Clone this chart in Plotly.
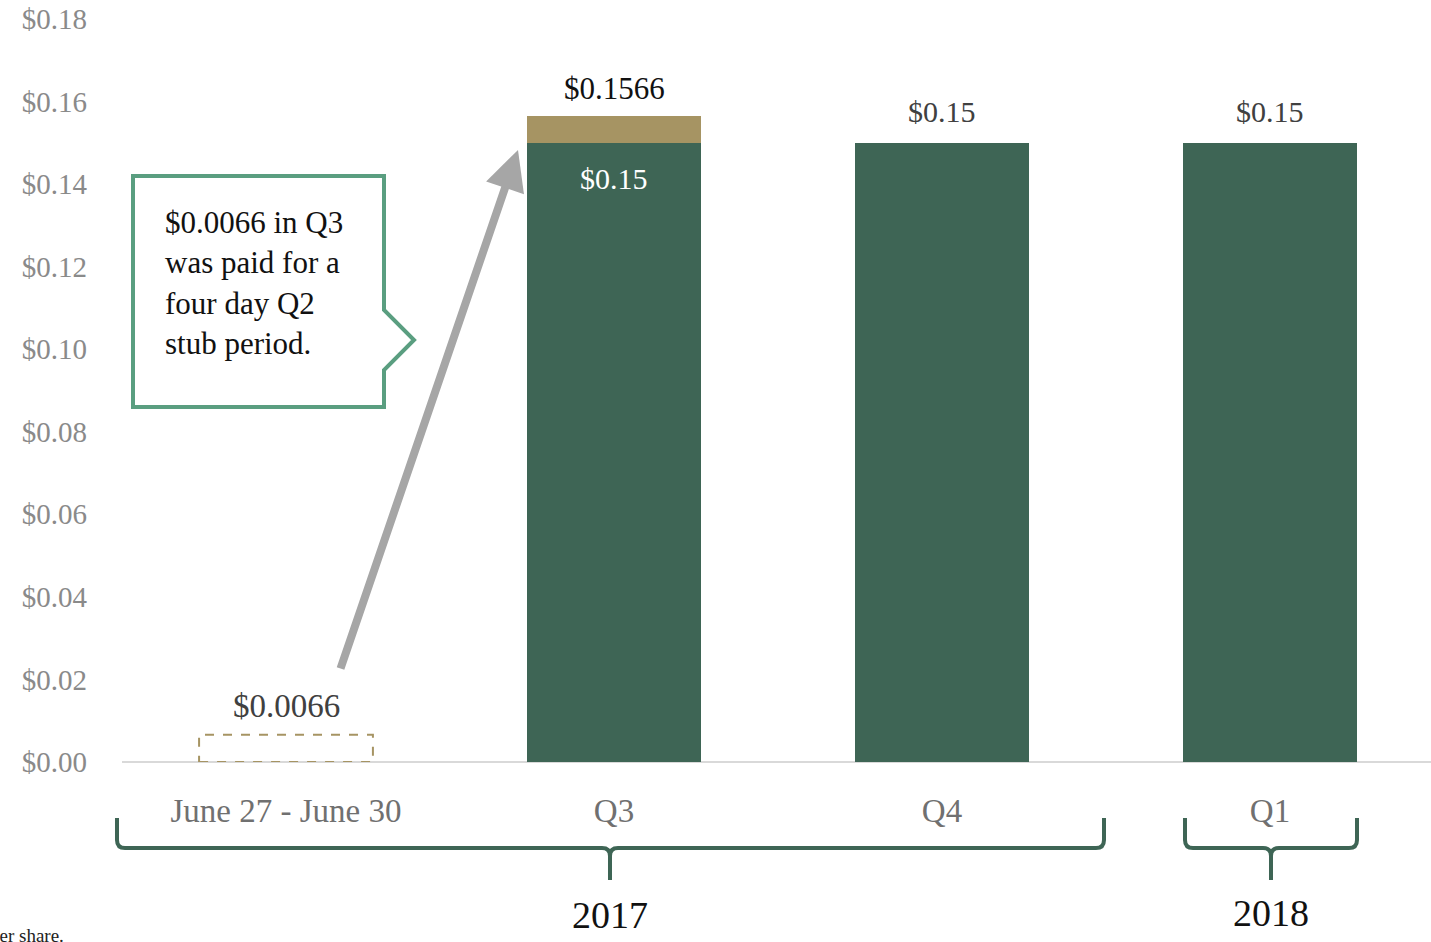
import plotly.graph_objects as go

categories = ["June 27 - June 30", "Q3", "Q4", "Q1"]
regular_dividend = [0, 0.15, 0.15, 0.15]
stub_dividend = [0, 0.0066, 0, 0]
stub_period_value = 0.0066
years = ["2017", "2018"]
y_ticks = [0, 0.02, 0.04, 0.06, 0.08, 0.10, 0.12, 0.14, 0.16, 0.18]

GREEN = "#3e6555"
GOLD = "#a69463"
CALLOUT = "#5a9e80"
FONT = "Liberation Serif"

W, H = 1434, 942
L, R, T, B = 122, 0, 19, 180
PW, PH = W - L - R, H - T - B


def px(x):
    return (x - L) / PW


def py(y):
    return (H - B - y) / PH


BAR_W = 0.53

fig = go.Figure()
fig.add_trace(go.Bar(x=list(range(len(categories))), y=regular_dividend, marker_color=GREEN,
                     width=BAR_W, marker_line_width=0, hoverinfo="skip"))
fig.add_trace(go.Bar(x=list(range(len(categories))), y=stub_dividend, marker_color=GOLD,
                     width=BAR_W, marker_line_width=0, hoverinfo="skip"))

annotations = []
# value labels
annotations.append(dict(x=0, y=stub_period_value, yshift=29, text="$%.4f" % stub_period_value,
                        xanchor="center", yanchor="middle", showarrow=False,
                        font=dict(family=FONT, size=33, color="#404040")))
for i in range(1, len(categories)):
    total = regular_dividend[i] + stub_dividend[i]
    if stub_dividend[i] > 0:
        annotations.append(dict(x=i, y=total, yshift=27, text="$%.4f" % total, showarrow=False,
                                xanchor="center", yanchor="middle",
                                font=dict(family=FONT, size=31, color="#111111")))
        annotations.append(dict(x=i, y=regular_dividend[i], yshift=-36, text="$%.2f" % regular_dividend[i],
                                xanchor="center", yanchor="middle", showarrow=False,
                                font=dict(family=FONT, size=30, color="white")))
    else:
        annotations.append(dict(x=i, y=total, yshift=31, text="$%.2f" % total, showarrow=False,
                                xanchor="center", yanchor="middle",
                                font=dict(family=FONT, size=30, color="#404040")))

# gray arrow
annotations.append(dict(xref="paper", yref="paper", x=px(518), y=py(150), ax=-178, ay=520,
                        axref="pixel", ayref="pixel", showarrow=True, arrowhead=2, arrowsize=1.0,
                        arrowwidth=8, arrowcolor="#a6a6a6", text="", standoff=0))

# callout text
annotations.append(dict(xref="paper", yref="paper", x=px(163), y=py(203), xanchor="left", yanchor="top",
                        align="left", showarrow=False,
                        text="$0.0066 in Q3<br>was paid for a<br>four day Q2<br>stub period.",
                        font=dict(family=FONT, size=31, color="#111111")))

# years
annotations.append(dict(xref="paper", yref="paper", x=px(610), y=py(915), text=years[0], showarrow=False,
                        xanchor="center", yanchor="middle",
                        font=dict(family=FONT, size=38, color="#111111")))
annotations.append(dict(xref="paper", yref="paper", x=px(1271), y=py(913), text=years[1], showarrow=False,
                        xanchor="center", yanchor="middle",
                        font=dict(family=FONT, size=38, color="#111111")))
# footnote
annotations.append(dict(xref="paper", yref="paper", x=px(66), y=py(935), xanchor="right", yanchor="middle",
                        text="per share.", showarrow=False,
                        font=dict(family=FONT, size=19, color="#222222")))

shapes = []
# dashed outline for the stub period
shapes.append(dict(type="rect", xref="x", yref="y", x0=0 - BAR_W / 2, x1=0 + BAR_W / 2,
                   y0=0, y1=stub_period_value, line=dict(color=GOLD, width=2, dash="dash"),
                   fillcolor="rgba(0,0,0,0)"))
# callout box with pointer
cb = [(133, 176), (384, 176), (384, 310), (414, 340), (384, 370), (384, 407), (133, 407)]
path = "M " + " L ".join("%f,%f" % (px(a), py(b)) for a, b in cb) + " Z"
shapes.append(dict(type="path", xref="paper", yref="paper", path=path,
                   line=dict(color=CALLOUT, width=4), fillcolor="white", layer="above"))


def brace(x0, x1, xc, ytop=818, ybar=848, ytip=880, r=8):
    p = "M %f,%f " % (px(x0), py(ytop))
    p += "L %f,%f " % (px(x0), py(ybar - r))
    p += "Q %f,%f %f,%f " % (px(x0), py(ybar), px(x0 + r), py(ybar))
    p += "L %f,%f " % (px(xc - r), py(ybar))
    p += "Q %f,%f %f,%f " % (px(xc), py(ybar), px(xc), py(ybar + r))
    p += "L %f,%f " % (px(xc), py(ytip))
    p += "M %f,%f " % (px(xc), py(ybar + r))
    p += "Q %f,%f %f,%f " % (px(xc), py(ybar), px(xc + r), py(ybar))
    p += "L %f,%f " % (px(x1 - r), py(ybar))
    p += "Q %f,%f %f,%f " % (px(x1), py(ybar), px(x1), py(ybar - r))
    p += "L %f,%f" % (px(x1), py(ytop))
    return dict(type="path", xref="paper", yref="paper", path=p, line=dict(color=GREEN, width=4))


shapes.append(brace(117, 1104, 610))
shapes.append(brace(1185, 1357, 1271))

fig.update_layout(
    width=W, height=H, barmode="stack", showlegend=False,
    margin=dict(l=L, r=R, t=T, b=B, pad=0),
    paper_bgcolor="white", plot_bgcolor="white",
    font=dict(family=FONT),
    xaxis=dict(tickmode="array", tickvals=list(range(len(categories))), ticktext=categories,
               range=[-0.5, len(categories) - 0.5], showgrid=False, zeroline=False,
               showline=False, ticks="", ticklabelstandoff=26,
               tickfont=dict(family=FONT, size=33, color="#707070")),
    yaxis=dict(range=[0, 0.18], tickmode="array", tickvals=y_ticks,
               ticktext=["$%.2f" % v for v in y_ticks], showgrid=False,
               zeroline=True, zerolinecolor="#d9d9d9", zerolinewidth=2, showline=False,
               ticks="", ticklabelstandoff=34,
               tickfont=dict(family=FONT, size=29, color="#8a8a8a")),
    annotations=annotations, shapes=shapes,
)

fig.write_html("out.html", config={"displayModeBar": False},
               post_script="document.body.style.margin='0px';document.body.style.overflow='hidden';")
